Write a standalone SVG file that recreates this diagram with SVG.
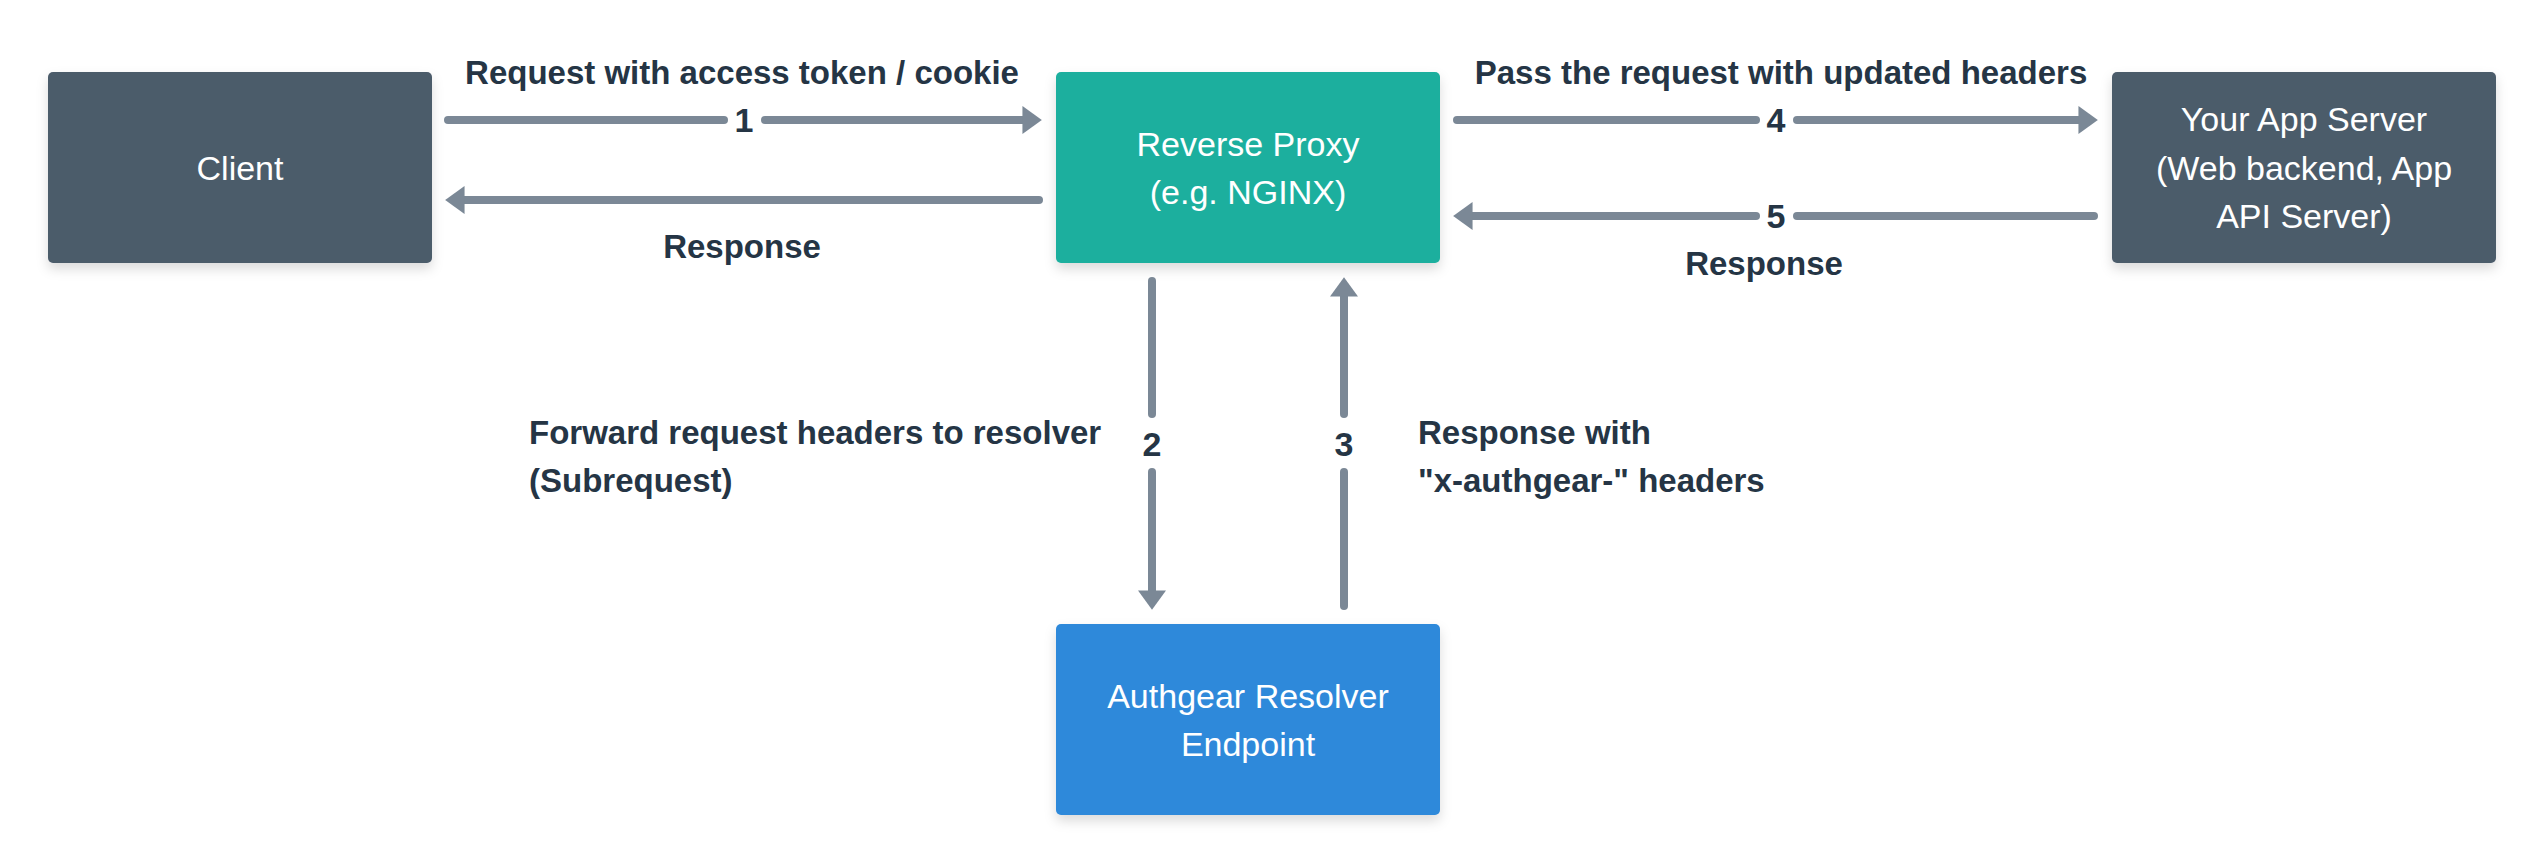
<svg xmlns="http://www.w3.org/2000/svg" width="2544" height="864" viewBox="0 0 2544 864">
<style>
.node-text{font-family:"Liberation Sans",Arial,sans-serif;font-size:34px;fill:#ffffff;text-anchor:middle}
.label{font-family:"Liberation Sans",Arial,sans-serif;font-size:33px;font-weight:bold;fill:#253545}
.mid{text-anchor:middle}
.num{font-family:"Liberation Sans",Arial,sans-serif;font-size:34px;font-weight:bold;fill:#253545;text-anchor:middle}
.conn{stroke:#7b8896;stroke-width:8;stroke-linecap:round;fill:none}
.head{marker-end:url(#arrow)}
</style>
<defs>
<filter id="shadow" x="-10%" y="-10%" width="120%" height="130%">
<feDropShadow dx="0" dy="6" stdDeviation="6" flood-color="#000000" flood-opacity="0.14"/>
</filter>
<marker id="arrow" markerUnits="userSpaceOnUse" markerWidth="20" markerHeight="28" viewBox="0 0 18 26" refX="7" refY="13" orient="auto">
<path d="M0,0 L18,13 L0,26 Z" fill="#7b8896"/>
</marker>
</defs>
<rect width="2544" height="864" fill="#ffffff"/>

<g id="client">
<rect x="48" y="72" width="384" height="191" rx="5" fill="#4b5b6b" filter="url(#shadow)"/>
<text class="node-text" x="240" y="180">Client</text>
</g>

<g id="reverse-proxy">
<rect x="1056" y="72" width="384" height="191" rx="5" fill="#1baf9e" filter="url(#shadow)"/>
<text class="node-text" x="1248" y="155.5">Reverse Proxy</text>
<text class="node-text" x="1248" y="203.5">(e.g. NGINX)</text>
</g>

<g id="app-server">
<rect x="2112" y="72" width="384" height="191" rx="5" fill="#4b5b6b" filter="url(#shadow)"/>
<text class="node-text" x="2304" y="131">Your App Server</text>
<text class="node-text" x="2304" y="179.5">(Web backend, App</text>
<text class="node-text" x="2304" y="228">API Server)</text>
</g>

<g id="authgear-resolver">
<rect x="1056" y="624" width="384" height="191" rx="5" fill="#2d89da" filter="url(#shadow)"/>
<text class="node-text" x="1248" y="708">Authgear Resolver</text>
<text class="node-text" x="1248" y="756">Endpoint</text>
</g>

<g id="connectors">
<!-- 1: client -> proxy -->
<line class="conn" x1="448" y1="120" x2="724" y2="120"/>
<line class="conn head" x1="765" y1="120" x2="1030" y2="120"/>
<text class="num" x="744" y="132">1</text>
<text class="label mid" x="742" y="84">Request with access token / cookie</text>

<!-- response: proxy -> client -->
<line class="conn head" x1="1039" y1="200" x2="457" y2="200"/>
<text class="label mid" x="742" y="258">Response</text>

<!-- 4: proxy -> app -->
<line class="conn" x1="1457" y1="120" x2="1756" y2="120"/>
<line class="conn head" x1="1797" y1="120" x2="2086" y2="120"/>
<text class="num" x="1776" y="132">4</text>
<text class="label mid" x="1781" y="84">Pass the request with updated headers</text>

<!-- 5: app -> proxy -->
<line class="conn" x1="2094" y1="216" x2="1797" y2="216"/>
<line class="conn head" x1="1756" y1="216" x2="1465" y2="216"/>
<text class="num" x="1776" y="228">5</text>
<text class="label mid" x="1764" y="275">Response</text>

<!-- 2: proxy -> resolver -->
<line class="conn" x1="1152" y1="281" x2="1152" y2="414"/>
<line class="conn head" x1="1152" y1="472" x2="1152" y2="598"/>
<text class="num" x="1152" y="456">2</text>
<text class="label" x="529" y="444">Forward request headers to resolver</text>
<text class="label" x="529" y="492">(Subrequest)</text>

<!-- 3: resolver -> proxy -->
<line class="conn" x1="1344" y1="606" x2="1344" y2="472"/>
<line class="conn head" x1="1344" y1="414" x2="1344" y2="289"/>
<text class="num" x="1344" y="456">3</text>
<text class="label" x="1418" y="444">Response with</text>
<text class="label" x="1418" y="492">"x-authgear-" headers</text>
</g>
</svg>
